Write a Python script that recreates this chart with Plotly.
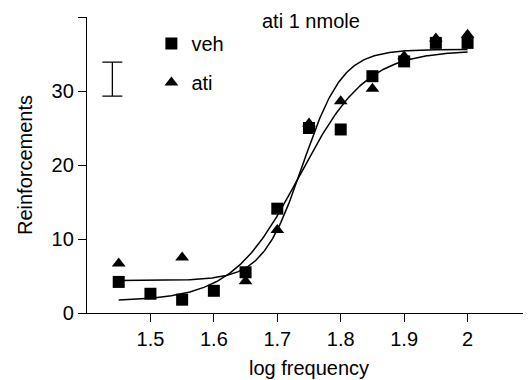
import numpy as np
import plotly.graph_objects as go

# Data
log_freq_veh = [1.45, 1.5, 1.55, 1.6, 1.65, 1.7, 1.75, 1.8, 1.85, 1.9, 1.95, 2.0]
veh = [4.2, 2.6, 1.8, 3.0, 5.5, 14.1, 25.0, 24.8, 32.0, 34.0, 36.5, 36.5]

log_freq_ati = [1.45, 1.55, 1.65, 1.7, 1.75, 1.8, 1.85, 1.9, 1.95, 2.0]
ati = [6.7, 7.5, 4.3, 11.2, 25.6, 28.6, 30.3, 34.7, 37.1, 37.6]

# Sigmoid fit parameters (bottom, top, log EC50, hill slope)
fit_veh = dict(bottom=1.6, top=35.5, ec50=1.735, hill=8.2)
fit_ati = dict(bottom=4.4, top=35.6, ec50=1.740, hill=13.8)
fit_range = [1.45, 2.0]

# Representative error bar
err_x = [1.44]
err_y = [31.6]
err_half = [2.3]

title_text = "ati 1 nmole"
x_ticks = [1.5, 1.6, 1.7, 1.8, 1.9, 2.0]
x_ticklabels = ["1.5", "1.6", "1.7", "1.8", "1.9", "2"]
y_ticks = [0, 10, 20, 30, 40]


def logistic(x, p):
    return p["bottom"] + (p["top"] - p["bottom"]) / (1 + 10 ** ((p["ec50"] - x) * p["hill"]))


xs = np.linspace(fit_range[0], fit_range[1], 300)
FONT = "Liberation Sans, Arial, sans-serif"
FS = 20

fig = go.Figure()
fig.add_trace(go.Scatter(x=xs, y=logistic(xs, fit_veh), mode="lines",
                         line=dict(color="black", width=1.5), showlegend=False, hoverinfo="skip"))
fig.add_trace(go.Scatter(x=xs, y=logistic(xs, fit_ati), mode="lines",
                         line=dict(color="black", width=1.5), showlegend=False, hoverinfo="skip"))
fig.add_trace(go.Scatter(x=log_freq_veh, y=veh, mode="markers", name="veh", legendgroup="veh",
                         marker=dict(symbol="square", size=12, color="black")))
fig.add_trace(go.Scatter(x=log_freq_ati, y=ati, mode="markers", name="ati", legendgroup="ati",
                         marker=dict(symbol="triangle-up", size=12, color="black")))
fig.add_trace(go.Scatter(x=err_x, y=err_y, mode="markers", showlegend=False,
                         marker=dict(size=1, color="rgba(0,0,0,0)"),
                         error_y=dict(type="data", array=err_half, visible=True,
                                      color="black", thickness=1.3, width=10)))

fig.add_annotation(text=title_text, x=0.505, xref="paper", y=0.985, yref="paper",
                   xanchor="center", yanchor="middle", showarrow=False,
                   font=dict(family=FONT, size=FS, color="black"))

fig.update_layout(
    width=523, height=372,
    margin=dict(l=79, r=0, t=9, b=67),
    paper_bgcolor="white", plot_bgcolor="white",
    font=dict(family=FONT, size=FS, color="black"),
    showlegend=True,
    legend=dict(x=0.145, y=0.976, xanchor="left", yanchor="top",
                bgcolor="rgba(0,0,0,0)", tracegroupgap=10,
                font=dict(family=FONT, size=FS, color="black")),
    xaxis=dict(range=[1.4, 2.1], tickvals=x_ticks, ticktext=x_ticklabels,
               showgrid=False, zeroline=False, showline=True, linecolor="black", linewidth=1.3,
               ticks="outside", ticklen=8, tickwidth=1.3, tickcolor="black",
               tickfont=dict(family=FONT, size=FS),
               title=dict(text="log frequency", font=dict(family=FONT, size=FS), standoff=11)),
    yaxis=dict(range=[0, 40], tickvals=y_ticks,
               showgrid=False, zeroline=False, showline=True, linecolor="black", linewidth=1.3,
               ticks="outside", ticklen=8, tickwidth=1.3, tickcolor="black",
               tickfont=dict(family=FONT, size=FS),
               title=dict(text="Reinforcements", font=dict(family=FONT, size=FS), standoff=13)),
)

fig.write_html("out.html")
